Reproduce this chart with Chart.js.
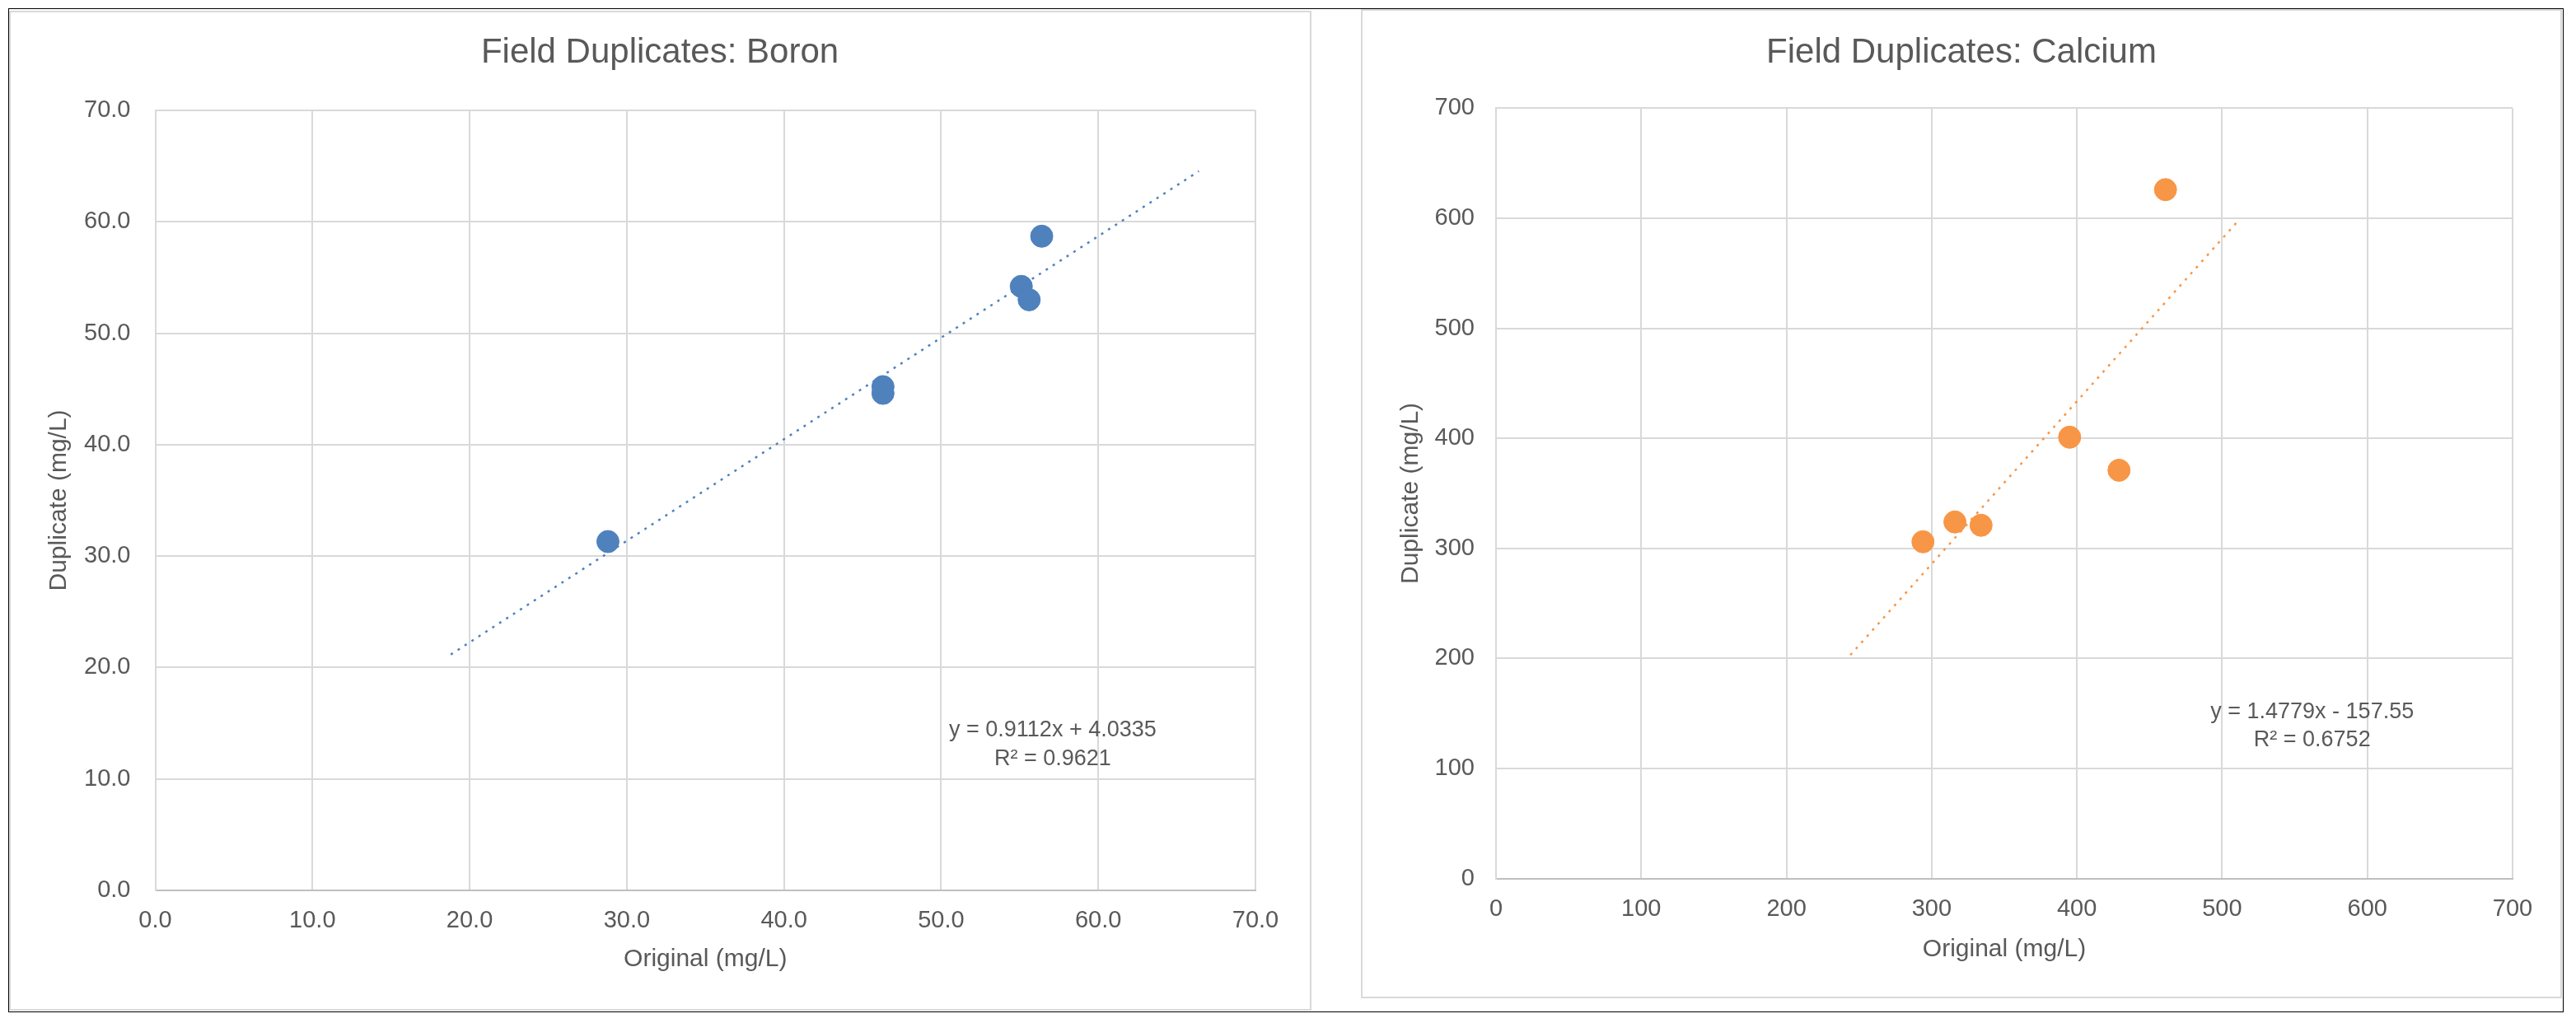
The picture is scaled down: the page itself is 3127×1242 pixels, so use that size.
<!DOCTYPE html>
<html>
<head>
<meta charset="utf-8">
<title>Field Duplicates</title>
<script src="https://cdn.jsdelivr.net/npm/chart.js@4.4.1/dist/chart.umd.min.js"></script>
<style>
	html, body { margin: 0; padding: 0; background: #fff; }
	body { width: 3127px; height: 1242px; position: relative; overflow: hidden; }
	.frame { position: absolute; left: 10px; top: 10px; width: 3102px; height: 1219px; border: 1px solid #000; box-sizing: border-box; }
	.panel { position: absolute; border: 2px solid #d9d9d9; box-sizing: border-box; }
	#boronPanel { left: 11px; top: 13px; width: 1581px; height: 1214px; }
	#calciumPanel { left: 1652px; top: 11px; width: 1458px; height: 1201px; }
	canvas { position: absolute; }
	#boronChart { left: 14px; top: 17px; }
	#calciumChart { left: 1656px; top: 15px; }
</style>
</head>
<body>
<div class="frame"></div>
<div class="panel" id="boronPanel"></div>
<div class="panel" id="calciumPanel"></div>
<canvas id="boronChart" width="1574" height="1206"></canvas>
<canvas id="calciumChart" width="1450" height="1193"></canvas>
<script>
// Boron field duplicates (mg/L)
const boronOriginal = [28.8, 46.3, 46.3, 55.1, 55.6, 56.4]
const boronDuplicate = [31.3, 45.2, 44.6, 54.2, 53.0, 58.7]
// linear trendline as printed on the chart, drawn over this x range
const boronSlope = 0.9112
const boronIntercept = 4.0335
const boronR2 = 0.9621
const boronTrendRange = [18.8, 66.4]
const boronTicks = [0, 10, 20, 30, 40, 50, 60, 70]

// Calcium field duplicates (mg/L)
const calciumOriginal = [294, 316, 334, 395, 429, 461]
const calciumDuplicate = [306, 324, 321, 401, 371, 626]
const calciumSlope = 1.4779
const calciumIntercept = -157.55
const calciumR2 = 0.6752
const calciumTrendRange = [244, 511]
const calciumTicks = [0, 100, 200, 300, 400, 500, 600, 700]

const fontFamily = "'Liberation Sans', Arial, sans-serif"
const textColor = '#595959'
Chart.defaults.font.family = fontFamily
Chart.defaults.color = textColor

// draws the trendline equation text at a data position
const equationLabels = {
	id: 'equationLabels',
	afterDatasetsDraw(chart, args, opts) {
		const { ctx, scales: { x, y } } = chart
		ctx.save()
		ctx.font = opts.size + 'px ' + fontFamily
		ctx.fillStyle = textColor
		ctx.textAlign = 'center'
		ctx.textBaseline = 'middle'
		opts.lines.forEach(line => {
			ctx.fillText(line.text, x.getPixelForValue(line.x), y.getPixelForValue(line.y))
		})
		ctx.restore()
	},
}

function toPoints(xs, ys) {
	return xs.map((v, i) => ({ x: v, y: ys[i] }))
}

function trendPoints(range, slope, intercept) {
	return range.map(v => ({ x: v, y: slope * v + intercept }))
}

function makeChart(id, cfg) {
	const ticks = cfg.ticks
	const axisTick = {
		stepSize: ticks[1] - ticks[0],
		font: { size: 29 },
		color: textColor,
		callback: v => (cfg.decimals ? v.toFixed(cfg.decimals) : String(v)),
	}
	return new Chart(document.getElementById(id), {
		type: 'scatter',
		data: {
			datasets: [
				{
					label: 'Linear trend',
					data: cfg.trend,
					showLine: true,
					borderColor: cfg.color,
					borderWidth: 2.5,
					borderDash: [3, 7],
					pointRadius: 0,
					pointHoverRadius: 0,
					fill: false,
				},
				{
					label: cfg.name,
					data: cfg.points,
					backgroundColor: cfg.color,
					borderColor: cfg.color,
					borderWidth: 1,
					pointRadius: 13.5,
				},
			],
		},
		options: {
			responsive: false,
			animation: false,
			events: [],
			layout: { padding: 0 },
			plugins: {
				legend: { display: false },
				tooltip: { enabled: false },
				title: {
					display: true,
					text: cfg.title,
					color: textColor,
					font: { size: 42, weight: 'normal' },
					padding: cfg.titlePad,
				},
				equationLabels: { size: 27, lines: cfg.labels },
			},
			scales: {
				x: {
					type: 'linear',
					min: ticks[0],
					max: ticks[ticks.length - 1],
					ticks: Object.assign({ padding: 20 }, axisTick),
					grid: { color: '#d9d9d9', lineWidth: 2, drawTicks: false },
					border: { color: '#bfbfbf', width: 2 },
					title: {
						display: true,
						text: 'Original (mg/L)',
						color: textColor,
						font: { size: 30 },
						padding: { top: 0, bottom: cfg.xTitlePad },
					},
					afterFit: s => { s.height = cfg.xHeight },
				},
				y: {
					type: 'linear',
					min: ticks[0],
					max: ticks[ticks.length - 1],
					ticks: Object.assign({ padding: cfg.yTickPad }, axisTick),
					grid: { color: '#d9d9d9', lineWidth: 2, drawTicks: false },
					border: { color: '#d9d9d9', width: 2 },
					title: {
						display: true,
						text: 'Duplicate (mg/L)',
						color: textColor,
						font: { size: 30 },
						padding: { top: cfg.yTitlePad, bottom: 0 },
					},
					afterFit: s => { s.width = cfg.yWidth },
				},
				// empty spacer on the right so the title stays centred on the panel
				spacer: {
					type: 'linear',
					position: 'right',
					grid: { display: false },
					ticks: { display: false },
					border: { display: false },
					afterFit: s => { s.width = cfg.padRight },
				},
			},
		},
		plugins: [equationLabels],
	})
}

makeChart('boronChart', {
	name: 'Boron',
	title: 'Field Duplicates: Boron',
	color: '#4f81bd',
	points: toPoints(boronOriginal, boronDuplicate),
	trend: trendPoints(boronTrendRange, boronSlope, boronIntercept),
	ticks: boronTicks,
	decimals: 1,
	padRight: 64,
	titlePad: { top: 22, bottom: 44.5 },
	xHeight: 142,
	yWidth: 174.5,
	xTitlePad: 40,
	yTitlePad: 40,
	yTickPad: 30,
	labels: [
		{ text: 'y = ' + boronSlope + 'x + ' + boronIntercept, x: 57.1, y: 14.4 },
		{ text: 'R² = ' + boronR2, x: 57.1, y: 11.8 },
	],
})

makeChart('calciumChart', {
	name: 'Calcium',
	title: 'Field Duplicates: Calcium',
	color: '#f79646',
	points: toPoints(calciumOriginal, calciumDuplicate),
	trend: trendPoints(calciumTrendRange, calciumSlope, calciumIntercept),
	ticks: calciumTicks,
	decimals: 0,
	padRight: 56,
	titlePad: { top: 24, bottom: 42 },
	xHeight: 141.5,
	yWidth: 160,
	xTitlePad: 37,
	yTitlePad: 39,
	yTickPad: 26,
	labels: [
		{ text: 'y = ' + calciumSlope + 'x - ' + Math.abs(calciumIntercept), x: 562, y: 151 },
		{ text: 'R² = ' + calciumR2, x: 562, y: 126 },
	],
})
</script>
</body>
</html>
